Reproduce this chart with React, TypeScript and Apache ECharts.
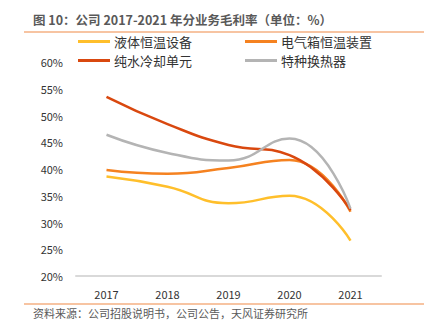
import React, { useEffect, useRef } from "react";
import * as echarts from "echarts";

const years = ["2017", "2018", "2019", "2020", "2021"];
const liquid = [38.6, 36.7, 33.6, 35.0, 26.6];
const elecBox = [39.8, 39.1, 40.2, 41.7, 32.0];
const pureWater = [53.5, 48.4, 44.5, 42.6, 32.3];
const special = [46.4, 43.0, 41.6, 45.7, 32.6];
const seriesNames = ["液体恒温设备", "电气箱恒温装置", "纯水冷却单元", "特种换热器"];
const colors = ["#FFBF2B", "#F58220", "#D9480F", "#B4B4B4"];

const FONT = "'Noto Sans CJK SC', 'Noto Sans', sans-serif";

export default function App() {
  const ref = useRef<HTMLDivElement>(null);
  useEffect(() => {
    const chart = echarts.init(ref.current!, null, { renderer: "svg" });
    const data = [liquid, elecBox, pureWater, special];
    const legendPos = [
      { left: 78, top: 35 },
      { left: 245, top: 35 },
      { left: 78, top: 54 },
      { left: 245, top: 54 },
    ];
    chart.setOption({
      animation: false,
      textStyle: { fontFamily: FONT },
      legend: seriesNames.map((n, i) => ({
        data: [n],
        left: legendPos[i].left,
        top: legendPos[i].top,
        icon: "rect",
        itemWidth: 32,
        itemHeight: 3,
        itemGap: 4,
        padding: 0,
        textStyle: { fontSize: 13, color: "#333", fontFamily: FONT, padding: [0, 0, 0, -1] },
      })),
      grid: { left: 76, right: 54, top: 62, bottom: 52 },
      xAxis: {
        type: "category",
        data: years,
        boundaryGap: true,
        axisLine: { lineStyle: { color: "#D9D9D9", width: 2 } },
        axisTick: { show: false },
        axisLabel: { fontSize: 11, color: "#333", margin: 12, fontFamily: FONT },
      },
      yAxis: {
        type: "value",
        min: 20,
        max: 60,
        interval: 5,
        axisLine: { show: false },
        axisTick: { show: false },
        splitLine: { show: false },
        axisLabel: { fontSize: 11, color: "#333", margin: 13, formatter: "{value}%", fontFamily: FONT },
      },
      series: seriesNames.map((n, i) => ({
        name: n,
        type: "line",
        smooth: true,
        showSymbol: false,
        symbol: "none",
        data: data[i],
        lineStyle: { color: colors[i], width: 2.5 },
        itemStyle: { color: colors[i] },
      })),
      graphic: [
        {
          type: "text",
          left: 33,
          top: 13,
          style: {
            text: "图 10：公司 2017-2021 年分业务毛利率（单位：%）",
            fontSize: 12.5,
            fontWeight: "bold",
            fill: "#595959",
            fontFamily: FONT,
          },
        },
        {
          type: "line",
          shape: { x1: 24, y1: 32, x2: 424, y2: 32 },
          style: { stroke: "#F4B183", lineWidth: 1.5 },
        },
        {
          type: "line",
          shape: { x1: 24, y1: 304, x2: 424, y2: 304 },
          style: { stroke: "#F4B183", lineWidth: 1.5 },
        },
        {
          type: "text",
          left: 33,
          top: 307,
          style: {
            text: "资料来源：公司招股说明书，公司公告，天风证券研究所",
            fontSize: 11,
            fill: "#595959",
            fontFamily: FONT,
          },
        },
      ],
    });
    return () => chart.dispose();
  }, []);
  return <div ref={ref} style={{ width: 435, height: 328, position: "absolute", left: 0, top: 0 }} />;
}
